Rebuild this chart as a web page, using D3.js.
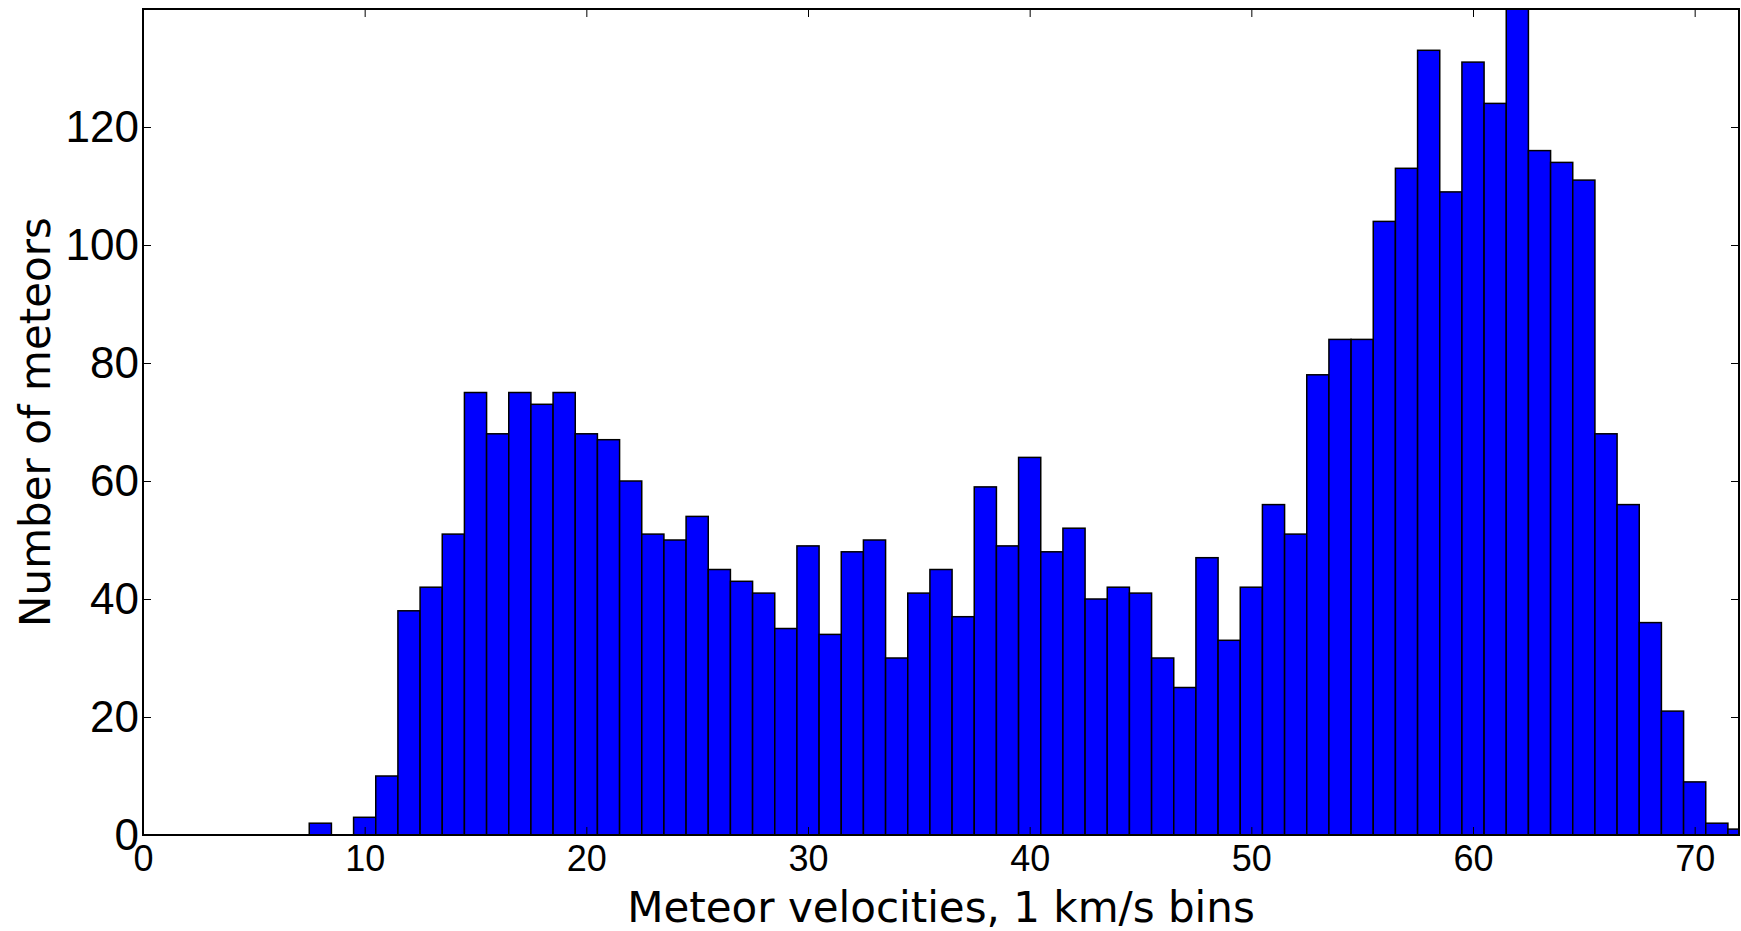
<!DOCTYPE html>
<html>
<head>
<meta charset="utf-8">
<script src="https://cdn.jsdelivr.net/npm/d3@7"></script>
<style>
  body { margin: 0; background: #fff; }
  svg { display: block; font-family: "DejaVu Sans", sans-serif; }
</style>
</head>
<body>
<div id="chart"></div>
<script>
// bin centres in km/s, one bin per 1 km/s
var binCentres = [8, 9, 10, 11, 12, 13, 14, 15, 16, 17, 18, 19, 20, 21, 22, 23, 24, 25, 26, 27,
  28, 29, 30, 31, 32, 33, 34, 35, 36, 37, 38, 39, 40, 41, 42, 43, 44, 45, 46, 47,
  48, 49, 50, 51, 52, 53, 54, 55, 56, 57, 58, 59, 60, 61, 62, 63, 64, 65, 66, 67,
  68, 69, 70, 71, 72];
// number of meteors in each bin
var counts = [2, 0, 3, 10, 38, 42, 51, 75, 68, 75, 73, 75, 68, 67, 60, 51, 50, 54, 45, 43,
  41, 35, 49, 34, 48, 50, 30, 41, 45, 37, 59, 49, 64, 48, 52, 40, 42, 41, 30, 25,
  47, 33, 42, 56, 51, 78, 84, 84, 104, 113, 133, 109, 131, 124, 140, 116, 114, 111, 68, 56,
  36, 21, 9, 2, 1];
var xTicks = [0, 10, 20, 30, 40, 50, 60, 70];
var yTicks = [0, 20, 40, 60, 80, 100, 120];
var binWidth = 1;

var width = 1741, height = 931;
var margin = {top: 9, right: 2, bottom: 96, left: 143};

var svg = d3.select("#chart").append("svg")
  .attr("width", width)
  .attr("height", height);

var x = d3.scaleLinear()
  .domain([0, 72])
  .range([margin.left, width - margin.right]);

var y = d3.scaleLinear()
  .domain([0, 140])
  .range([height - margin.bottom, margin.top]);

svg.append("clipPath").attr("id", "plot-clip")
  .append("rect")
    .attr("x", x(0))
    .attr("y", y(140))
    .attr("width", x(72) - x(0))
    .attr("height", y(0) - y(140));

var data = binCentres.map(function(v, i) { return {v: v, n: counts[i]}; });

svg.append("g")
  .attr("clip-path", "url(#plot-clip)")
  .selectAll("rect")
  .data(data.filter(function(d) { return d.n > 0; }))
  .enter().append("rect")
    .attr("x", function(d) { return x(d.v - binWidth / 2); })
    .attr("y", function(d) { return y(d.n); })
    .attr("width", function(d) { return x(d.v + binWidth / 2) - x(d.v - binWidth / 2); })
    .attr("height", function(d) { return y(0) - y(d.n); })
    .style("fill", "#0000ff")
    .style("stroke", "#000")
    .style("stroke-width", 1.5);

// ticks point inwards on all four sides
var tickLen = 8;

var bottomAxis = svg.append("g")
  .attr("transform", "translate(0," + y(0) + ")")
  .call(d3.axisBottom(x).tickValues(xTicks).tickSizeInner(-tickLen).tickSizeOuter(0).tickPadding(10));

var leftAxis = svg.append("g")
  .attr("transform", "translate(" + x(0) + ",0)")
  .call(d3.axisLeft(y).tickValues(yTicks).tickSizeInner(-tickLen).tickSizeOuter(0).tickPadding(4));

svg.append("g")
  .attr("transform", "translate(0," + y(140) + ")")
  .call(d3.axisTop(x).tickValues(xTicks).tickSizeInner(-tickLen).tickSizeOuter(0).tickFormat(""));

svg.append("g")
  .attr("transform", "translate(" + x(72) + ",0)")
  .call(d3.axisRight(y).tickValues(yTicks).tickSizeInner(-tickLen).tickSizeOuter(0).tickFormat(""));

svg.selectAll(".domain").remove();
svg.selectAll(".tick line").style("stroke", "#000").style("stroke-width", 1);

bottomAxis.selectAll("text")
  .style("font-size", "36px")
  .style("fill", "#000");

leftAxis.selectAll("text")
  .style("font-size", "44px")
  .style("fill", "#000");

// frame
svg.append("rect")
  .attr("x", x(0))
  .attr("y", y(140))
  .attr("width", x(72) - x(0))
  .attr("height", y(0) - y(140))
  .style("fill", "none")
  .style("stroke", "#000")
  .style("stroke-width", 2);

svg.append("text")
  .attr("x", (x(0) + x(72)) / 2)
  .attr("y", 922)
  .attr("text-anchor", "middle")
  .style("font-size", "42px")
  .text("Meteor velocities, 1 km/s bins");

svg.append("text")
  .attr("transform", "translate(50," + (y(0) + y(140)) / 2 + ") rotate(-90)")
  .attr("text-anchor", "middle")
  .style("font-size", "42px")
  .text("Number of meteors");
</script>
</body>
</html>
